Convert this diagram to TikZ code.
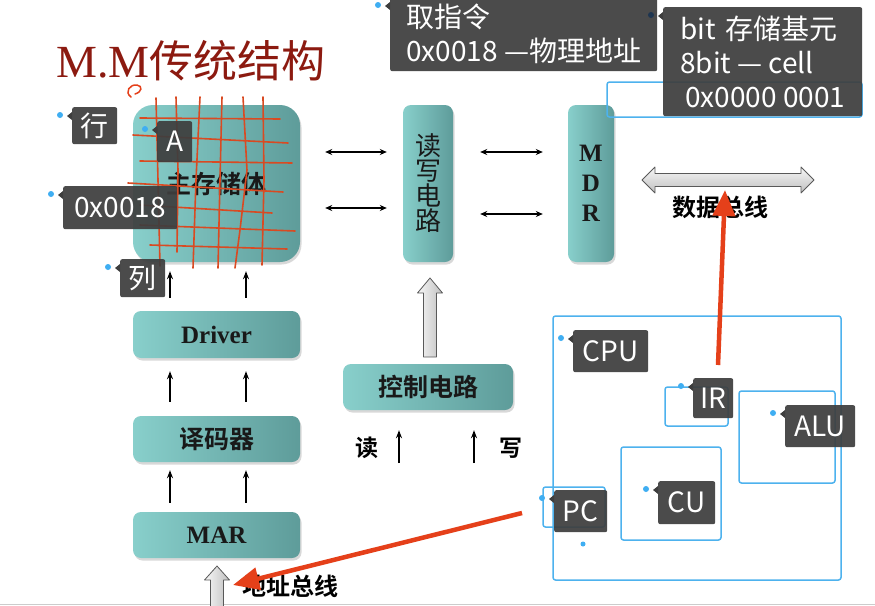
\documentclass[tikz,border=0pt]{standalone}
\usepackage{fontspec}
\setmainfont{Liberation Serif}
\newfontfamily\cjk{Noto Sans CJK SC}[BoldFont={Noto Sans CJK SC Bold}]
\usetikzlibrary{arrows.meta,shadows}

\definecolor{tealL}{HTML}{88CFCB}
\definecolor{tealD}{HTML}{5E9C9A}
\definecolor{tagbg}{HTML}{3E3E3E}
\definecolor{tagdot}{HTML}{3FAEF2}
\definecolor{navydot}{HTML}{1E3550}
\definecolor{markblue}{HTML}{4DB2EE}
\definecolor{penred}{HTML}{E5401A}
\definecolor{gridred}{HTML}{D94A22}
\definecolor{titlered}{HTML}{8C1A10}

\tikzset{
  block/.style={rounded corners=8pt, left color=tealL, right color=tealD,
    drop shadow={shadow xshift=1.5pt, shadow yshift=-2.5pt, opacity=0.3},
    font=\cjk\bfseries\fontsize{25}{25}\selectfont, text=black!90, inner sep=0pt},
  serifblock/.style={block, font=\bfseries\fontsize{25}{30}\selectfont},
  tagbox/.style={fill=tagbg, fill opacity=0.93, text opacity=1, text=white,
    rounded corners=2pt, font=\cjk\fontsize{28}{34}\selectfont, align=left,
    inner sep=0pt, anchor=north west},
  bluebox/.style={draw=markblue, line width=1.5pt, rounded corners=2.5pt},
  gridline/.style={gridred, line width=1.6pt, line cap=round},
  biarr/.style={{Stealth[length=7pt,width=6pt]}-{Stealth[length=7pt,width=6pt]}, line width=1.7pt},
  uparr/.style={-{Stealth[length=8pt,width=6pt]}, line width=1.8pt},
  hollow/.style={draw=gray!70!black, line width=0.8pt, line join=round,
    left color=gray!6, right color=gray!50},
  bus/.style={draw=gray!70!black, line width=0.8pt, line join=round,
    top color=gray!6, bottom color=gray!50},
  pen/.style={penred, line width=4.5pt, -{Triangle[length=26pt,width=22pt]}},
  buslabel/.style={font=\cjk\bfseries\fontsize{24}{24}\selectfont},
}

% annotation tag: [dot colour]{name}{x}{y}{width}{height}{text}
\newcommand{\notetag}[7][tagdot]{%
  \node[tagbox, minimum width=#5pt, minimum height=#6pt] (#2) at (#3,#4) {#7};
  \fill[tagbg] ([yshift=-5pt]#2.north west) -- ++(-5,4) -- ++(5,4) -- cycle;
  \fill[#1] ([xshift=-12pt,yshift=-8pt]#2.north west) circle (3pt);
}

\begin{document}
\begin{tikzpicture}[x=1pt, y=-1pt]
  \useasboundingbox[fill=white] (0,0) rectangle (875,605);
  \draw[gray!40, line width=1pt] (0,604) -- (875,604);

  % title
  \node[anchor=base west, inner sep=0pt, text=titlered] (title) at (56,77)
    {\fontsize{46}{46}\selectfont M.M{\cjk\fontsize{44}{44}\selectfont 传统结构}};
  \draw[penred, line width=1.5pt, line cap=round]
    (131,97) .. controls (124,92) and (130,84) .. (137,85)
    .. controls (143,86) and (142,92) .. (135,94);

  % memory side
  \node[block, rounded corners=20pt, minimum width=167pt, minimum height=157pt]
    (store) at (216.5,183.5) {主存储体};
  \node[block, minimum width=50pt, minimum height=157pt, align=center,
    font=\cjk\fontsize{26}{25}\selectfont] (rw) at (428,183.5) {读\\写\\电\\路};
  \node[serifblock, minimum width=46pt, minimum height=157pt, align=center]
    (mdr) at (591,183.5) {M\\D\\R};
  \node[serifblock, minimum width=167pt, minimum height=47pt] (drv) at (216.5,334.5) {Driver};
  \node[block, minimum width=167pt, minimum height=46pt] (dec) at (216.5,439) {译码器};
  \node[serifblock, minimum width=167pt, minimum height=46pt] (mar) at (216.5,535) {MAR};
  \node[block, minimum width=170pt, minimum height=46pt] (ctl) at (428,387) {控制电路};

  % grid drawn over the storage array
  \draw[gridline] (156,98) -- (158,180) -- (160,266);
  \draw[gridline] (176,97) -- (178,170) -- (177,252);
  \draw[gridline] (200,97) -- (196,180) -- (193,268);
  \draw[gridline] (222,97) -- (220,180) -- (218,268);
  \draw[gridline] (243,97) -- (247,170) -- (240,230) -- (235,268);
  \draw[gridline] (263,97) -- (264,180) -- (262,265);
  \draw[gridline] (140,118) -- (280,119);
  \draw[gridline] (133,135) -- (288,143);
  \draw[gridline] (140,161) -- (292,163);
  \draw[gridline] (128,183) -- (283,192);
  \draw[gridline] (140,205) -- (272,213);
  \draw[gridline] (140,225) -- (295,231);
  \draw[gridline] (150,245) -- (287,249);

  % links between blocks
  \draw[biarr, shorten <=25pt, shorten >=16pt] (store.east |- 0,152) -- (rw.west |- 0,152);
  \draw[biarr, shorten <=25pt, shorten >=16pt] (store.east |- 0,208) -- (rw.west |- 0,208);
  \draw[biarr, shorten <=27pt, shorten >=25pt] (rw.east |- 0,152) -- (mdr.west |- 0,152);
  \draw[biarr, shorten <=27pt, shorten >=25pt] (rw.east |- 0,214) -- (mdr.west |- 0,214);
  \foreach \px in {170,246} {
    \draw[uparr, shorten <=13pt, shorten >=9pt] (\px,0 |- drv.north) -- (\px,0 |- store.south);
    \draw[uparr, shorten <=14pt, shorten >=13pt] (\px,0 |- dec.north) -- (\px,0 |- drv.south);
    \draw[uparr, shorten <=9pt, shorten >=8pt] (\px,0 |- mar.north) -- (\px,0 |- dec.south);
  }

  % buses
  \path[hollow] (423.5,357) -- (423.5,293) -- (417.5,293) -- (430,278)
    -- (442.5,293) -- (436.5,293) -- (436.5,357) -- cycle;
  \path[hollow] (210.5,612) -- (210.5,580) -- (204.5,580) -- (217,566)
    -- (229.5,580) -- (223.5,580) -- (223.5,612) -- cycle;
  \path[bus] (642,180) -- (655,167) -- (655,173.5) -- (801,173.5) -- (801,167)
    -- (814,180) -- (801,193) -- (801,186.5) -- (655,186.5) -- (655,193) -- cycle;
  \coordinate (abus) at (233,585);
  \coordinate (dbus) at (725,190);
  \node[buslabel, anchor=center] (dlabel) at (720,207) {数据总线};
  \node[buslabel, anchor=center] (alabel) at (290,586) {地址总线};

  % read / write
  \coordinate (rdin) at (399,463);
  \coordinate (wrin) at (474,463);
  \draw[uparr, shorten >=20pt] (rdin) -- (rdin |- ctl.south);
  \draw[uparr, shorten >=20pt] (wrin) -- (wrin |- ctl.south);
  \node[buslabel, font=\cjk\bfseries\fontsize{23}{23}\selectfont] (rd) at (367,448) {读};
  \node[buslabel, font=\cjk\bfseries\fontsize{23}{23}\selectfont] (wr) at (511,448) {写};

  % CPU sketch
  \draw[bluebox] (553,316) rectangle (841,580);
  \draw[bluebox] (665,387) rectangle (728,426);
  \draw[bluebox] (739,391) rectangle (835,483);
  \draw[bluebox] (621,447) rectangle (721,540);
  \draw[bluebox] (543,487) rectangle (605,527);
  \draw[bluebox] (607,82) rectangle (862,117);
  \fill[tagdot] (583,544) circle (2.5pt);

  % annotation tags
  \notetag{hang}{72}{107}{45}{37}{行}
  \notetag{cella}{157}{121}{35}{41}{A}
  \notetag{addr}{63}{186}{114}{43}{0x0018}
  \notetag{lie}{120}{259}{45}{38}{列}
  \notetag{fetch}{390}{-3}{267}{74}{取指令\\0x0018 —物理地址}
  \notetag[navydot]{cell}{663}{7}{199}{109}{bit\hspace{10pt}存储基元\\8bit — cell\\\hspace{5pt}0x0000 0001}
  \notetag{cpu}{573}{330}{75}{42}{CPU}
  \notetag{ir}{693}{378}{40}{40}{IR}
  \notetag{alu}{785}{405}{70}{42}{ALU}
  \notetag{cu}{658}{481}{57}{43}{CU}
  \notetag{pc}{554}{490}{53}{42}{PC}

  % pen strokes
  \coordinate (pcout) at (522,513);
  \coordinate (irout) at (718,365);
  \draw[pen] (pcout) -- (abus);
  \draw[pen] (irout) -- (dbus);
\end{tikzpicture}
\end{document}
